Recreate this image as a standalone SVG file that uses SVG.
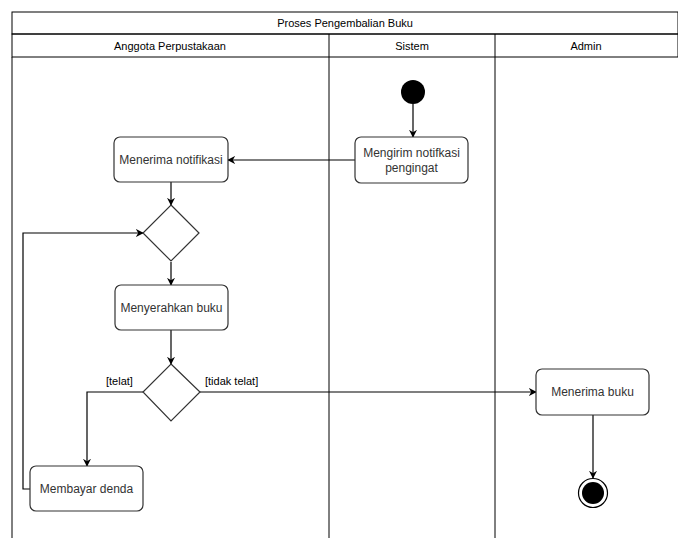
<svg xmlns="http://www.w3.org/2000/svg" width="678" height="538" viewBox="0 0 678 538">
<defs>
<marker id="arr" viewBox="0 0 10 10" refX="9" refY="5" markerWidth="8" markerHeight="8" orient="auto" markerUnits="userSpaceOnUse">
<path d="M0,0 L10,5 L0,10 L3,5 Z" fill="#000"/>
</marker>
<style>
.lane{fill:none;stroke:#000;stroke-width:1}
.hdr{font-family:"Liberation Sans",Arial,sans-serif;font-size:11px;fill:#000;text-anchor:middle}
.box{fill:#fff;stroke:#333;stroke-width:1.2}
.lbl{font-family:"Liberation Sans",Arial,sans-serif;font-size:12px;fill:#333;text-anchor:middle}
.grd{font-family:"Liberation Sans",Arial,sans-serif;font-size:11px;fill:#000}
.edge{fill:none;stroke:#000;stroke-width:1.2;marker-end:url(#arr)}
.dia{fill:#fff;stroke:#333;stroke-width:1.2}
</style>
</defs>
<rect width="678" height="538" fill="#fff"/>
<g id="pool">
<rect class="lane" x="12" y="12" width="666" height="22"/>
<text class="hdr" x="345" y="27">Proses Pengembalian Buku</text>
<rect class="lane" x="12" y="34" width="666" height="23"/>
<line class="lane" x1="12" y1="57" x2="12" y2="538"/>
<line class="lane" x1="329" y1="34" x2="329" y2="538"/>
<line class="lane" x1="495" y1="34" x2="495" y2="538"/>
<text class="hdr" x="170" y="49.500">Anggota Perpustakaan</text>
<text class="hdr" x="412" y="49.500">Sistem</text>
<text class="hdr" x="586" y="49.500">Admin</text>
</g>
<g id="connectors">
<line class="edge" x1="413" y1="104" x2="413" y2="137"/>
<line class="edge" x1="355" y1="160" x2="228" y2="160"/>
<line class="edge" x1="171" y1="182" x2="171" y2="205"/>
<line class="edge" x1="171" y1="262" x2="171" y2="285"/>
<line class="edge" x1="171" y1="330" x2="171" y2="364"/>
<polyline class="edge" points="143,392 87,392 87,466"/>
<polyline class="edge" points="30,489 23,489 23,233 143,233"/>
<line class="edge" x1="200" y1="392" x2="536" y2="392"/>
<line class="edge" x1="593" y1="415" x2="593" y2="478"/>
<text class="grd" x="106" y="385">[telat]</text>
<text class="grd" x="205" y="385">[tidak telat]</text>
</g>
<g id="start"><circle cx="413" cy="92" r="12" fill="#000"/></g>
<g id="mengirim">
<rect class="box" x="355" y="137" width="113" height="46" rx="6"/>
<text class="lbl" x="411.500" y="157">Mengirim notifkasi</text>
<text class="lbl" x="411.500" y="172">pengingat</text>
</g>
<g id="menerima-notifikasi">
<rect class="box" x="114" y="137" width="114" height="45" rx="6"/>
<text class="lbl" x="171" y="164">Menerima notifikasi</text>
</g>
<g id="decision1"><polygon class="dia" points="171,205 199,233 171,261 143,233"/></g>
<g id="menyerahkan">
<rect class="box" x="115" y="285" width="113" height="45" rx="6"/>
<text class="lbl" x="171.500" y="312">Menyerahkan buku</text>
</g>
<g id="decision2"><polygon class="dia" points="171,364 200,392 171,421 143,392"/></g>
<g id="membayar">
<rect class="box" x="30" y="466" width="113" height="45" rx="6"/>
<text class="lbl" x="86.500" y="493">Membayar denda</text>
</g>
<g id="menerima-buku">
<rect class="box" x="536" y="369" width="113" height="46" rx="6"/>
<text class="lbl" x="592.500" y="396">Menerima buku</text>
</g>
<g id="end">
<circle cx="593" cy="493" r="14.500" fill="#fff" stroke="#000" stroke-width="1.2"/>
<circle cx="593" cy="493" r="11" fill="#000"/>
</g>
</svg>
